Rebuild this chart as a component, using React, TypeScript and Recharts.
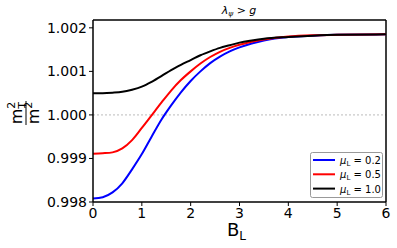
import React from 'react';
import { LineChart, Line, XAxis, YAxis, ReferenceLine } from 'recharts';

const B_VALUES = [
  0, 0.2, 0.4, 0.6, 0.8, 1, 1.2, 1.4, 1.6, 1.8, 2, 2.2, 2.4, 2.6, 2.8, 3, 3.25, 3.5, 4, 4.5, 5, 6,
];

const MU_02 = [
  0.99808, 0.99811, 0.99822, 0.99843, 0.99875, 0.9991, 0.9995, 0.99989, 1.00022, 1.00052, 1.00078,
  1.001, 1.00119, 1.00134, 1.00146, 1.00155, 1.00164, 1.00171, 1.00179, 1.00182, 1.00184, 1.00185,
];
const MU_05 = [
  0.99911, 0.99912, 0.99914, 0.99923, 0.99942, 0.9997, 0.99999, 1.00028, 1.00056, 1.0008, 1.001,
  1.00118, 1.00133, 1.00145, 1.00154, 1.00161, 1.00168, 1.00173, 1.0018, 1.00183, 1.00184, 1.00185,
];
const MU_10 = [
  1.0005, 1.0005, 1.00051, 1.00053, 1.00058, 1.00065, 1.00076, 1.00089, 1.00103, 1.00115, 1.00126,
  1.00137, 1.00146, 1.00154, 1.0016, 1.00166, 1.00171, 1.00175, 1.00179, 1.00182, 1.00184, 1.00185,
];

const X_TICKS = [0, 1, 2, 3, 4, 5, 6];
const Y_TICKS = [0.998, 0.999, 1.0, 1.001, 1.002];
const Y_DOMAIN = [0.998, 1.00218];

const SERIES = [
  { key: 'mu02', label: '0.2', color: '#0000ff' },
  { key: 'mu05', label: '0.5', color: '#ff0000' },
  { key: 'mu10', label: '1.0', color: '#000000' },
];

const FONT = '"DejaVu Sans", sans-serif';

const data = B_VALUES.map((b, i) => ({ b, mu02: MU_02[i], mu05: MU_05[i], mu10: MU_10[i] }));

export default function App() {
  return (
    <div style={{ position: 'absolute', left: 0, top: 0, background: '#fff' }}>
      <LineChart width={397} height={248} data={data} margin={{ top: 20, right: 11, bottom: 0, left: 0 }}>
        <text x={239} y={14} textAnchor="middle" fontFamily={FONT} fontSize={11} fontStyle="italic">
          λ<tspan fontSize={7.5} dy={2}>ψ</tspan>
          <tspan dy={-2}> {'>'} g</tspan>
        </text>
        <g transform="rotate(-90, 26, 113)" fontFamily={FONT}>
          <text x={26} y={109} textAnchor="middle" fontSize={16}>
            m<tspan fontSize={11} dy={-7}>2</tspan>
            <tspan fontSize={11} dx={-7} dy={11}>T</tspan>
          </text>
          <line x1={14} x2={38} y1={113} y2={113} stroke="#000" strokeWidth={1} />
          <text x={26} y={126} textAnchor="middle" fontSize={16}>
            m<tspan fontSize={11} dy={-7}>2</tspan>
          </text>
        </g>
        <XAxis
          dataKey="b"
          type="number"
          domain={[0, 6]}
          ticks={X_TICKS}
          height={46}
          stroke="#000"
          tickSize={4}
          tick={{ fill: '#000', fontSize: 14, fontFamily: FONT }}
          axisLine={{ stroke: '#000', strokeWidth: 1.5 }}
          label={({ viewBox }: any) => (
            <text x={viewBox.x + viewBox.width / 2 - 3} y={236} textAnchor="middle" fontFamily={FONT} fontSize={18}>
              B<tspan fontSize={12} dy={4}>L</tspan>
            </text>
          )}
        />
        <YAxis
          type="number"
          domain={Y_DOMAIN}
          allowDataOverflow
          ticks={Y_TICKS}
          width={93}
          tickSize={4}
          stroke="#000"
          tickFormatter={(v: number) => v.toFixed(3)}
          tick={{ fill: '#000', fontSize: 14, fontFamily: FONT }}
          axisLine={{ stroke: '#000', strokeWidth: 1.5 }}
        />
        <ReferenceLine y={1.0} stroke="#bbbbbb" strokeDasharray="2 2" strokeWidth={1} />
        <ReferenceLine y={Y_DOMAIN[1]} stroke="#000" strokeWidth={1.5} />
        <ReferenceLine x={6} stroke="#000" strokeWidth={1.5} />
        {SERIES.map((s) => (
          <Line
            key={s.key}
            type="monotone"
            dataKey={s.key}
            stroke={s.color}
            strokeWidth={2}
            dot={false}
            isAnimationActive={false}
          />
        ))}
        <g fontFamily={FONT}>
          <rect x={310.5} y={152.5} width={72} height={45} rx={2} fill="#fff" fillOpacity={0.85} stroke="#999" />
          {SERIES.map((s, i) => (
            <g key={s.key}>
              <line x1={313} x2={335} y1={160 + i * 14.3} y2={160 + i * 14.3} stroke={s.color} strokeWidth={2} />
              <text x={340} y={164 + i * 14.3} fontSize={10}>
                <tspan fontStyle="italic">μ</tspan>
                <tspan fontSize={7} dy={2}>L</tspan>
                <tspan dy={-2}> = {s.label}</tspan>
              </text>
            </g>
          ))}
        </g>
      </LineChart>
    </div>
  );
}
